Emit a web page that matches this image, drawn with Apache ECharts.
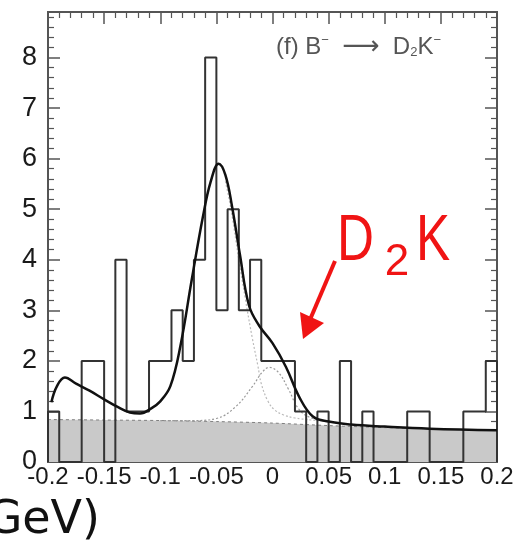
<!DOCTYPE html>
<html>
<head>
<meta charset="utf-8">
<script src="https://cdn.jsdelivr.net/npm/echarts@6/dist/echarts.min.js"></script>
<style>html,body{margin:0;padding:0;background:#fff}#c{width:529px;height:548px}</style>
</head>
<body>
<div id="c"></div>
<script>
// ---- data ----
const binStart = -0.2;
const binWidth = 0.01;
const counts = [1,0,0,2,2,0,4,1,1,2,2,3,2,4,8,3,5,3,4,2,2,2,1,0,1,0,2,0,1,0,0,0,1,1,0,0,0,1,1,2];

const totalX = [-0.197,-0.192,-0.185,-0.175,-0.163,-0.15,-0.138,-0.127,-0.118,-0.108,-0.1,-0.091,-0.082,-0.072,-0.062,-0.055,-0.048,-0.042,-0.036,-0.029,-0.021,-0.012,0,0.012,0.024,0.036,0.05,0.07,0.1,0.14,0.2];
const totalY = [1.18,1.5,1.67,1.55,1.41,1.24,1.09,0.98,0.96,1.06,1.2,1.5,2.3,3.6,4.85,5.55,5.9,5.68,5.05,4.1,3.1,2.7,2.35,1.88,1.28,0.9,0.8,0.74,0.7,0.66,0.63];

const sigX = [-0.042,-0.037,-0.03,-0.024,-0.018,-0.013,-0.01,-0.004,0.002,0.01,0.02,0.035,0.05];
const sigY = [5.55,5.0,4.0,3.2,2.45,1.9,1.55,1.2,1.03,0.93,0.87,0.83,0.8];

const d2kX = [-0.1,-0.07,-0.05,-0.033,-0.018,-0.009,-0.003,0.005,0.014,0.024,0.036,0.05,0.06];
const d2kY = [0.82,0.82,0.86,1.09,1.49,1.78,1.87,1.78,1.45,1.03,0.86,0.8,0.77];

const bkgX = [-0.2,-0.15,-0.1,-0.05,0,0.05,0.1,0.15,0.2];
const bkgY = [0.84,0.83,0.82,0.8,0.77,0.72,0.68,0.65,0.62];

const xTickLabels = ['-0.2','-0.15','-0.1','-0.05','0','0.05','0.1','0.15','0.2'];
const yTickLabels = ['0','1','2','3','4','5','6','7','8'];

// ---- build ----
const zip = (a, b) => a.map((v, i) => [v, b[i]]);
const histData = [[binStart, 0]];
counts.forEach((c, i) => histData.push([+(binStart + i * binWidth).toFixed(4), c]));
histData.push([+(binStart + counts.length * binWidth).toFixed(4), 0]);

const xMin = -0.2, xMax = 0.2, xStep = 0.05;
const axCol = '#555';
const xAxisBase = {
  type: 'value', min: xMin, max: xMax, interval: xStep,
  axisLine: {show: false, onZero: false},
  axisTick: {show: true, inside: true, length: 12, lineStyle: {color: axCol, width: 1.5}},
  minorTick: {show: true, splitNumber: 5, length: 6, lineStyle: {color: axCol, width: 1.2}},
  splitLine: {show: false}, minorSplitLine: {show: false}
};
const yAxisBase = {
  type: 'value', min: 0, max: 8.9, interval: 1,
  axisLine: {show: false, onZero: false},
  axisTick: {show: true, inside: true, length: 12, lineStyle: {color: axCol, width: 1.5}},
  minorTick: {show: true, splitNumber: 5, length: 6, lineStyle: {color: axCol, width: 1.2}},
  splitLine: {show: false}, minorSplitLine: {show: false}
};

const chart = echarts.init(document.getElementById('c'), null, {renderer: 'canvas'});
chart.setOption({
  animation: false,
  backgroundColor: '#fff',
  grid: {left: 48, right: 32, top: 12, bottom: 86, show: true, borderColor: '#555', borderWidth: 2, backgroundColor: 'transparent'},
  xAxis: [
    Object.assign({}, xAxisBase, {
      position: 'bottom',
      axisLabel: {show: true, fontSize: 24, color: '#1a1a1a', margin: 3, fontFamily: 'Liberation Sans',
        showMinLabel: true, showMaxLabel: true, hideOverlap: false,
        formatter: v => { const i = Math.round((v - xMin) / xStep); return xTickLabels[i] !== undefined ? xTickLabels[i] : ''; }}
    }),
    Object.assign({}, xAxisBase, {position: 'top', axisLabel: {show: false}})
  ],
  yAxis: [
    Object.assign({}, yAxisBase, {
      position: 'left',
      axisLabel: {show: true, fontSize: 27, color: '#1a1a1a', margin: 11, fontFamily: 'Liberation Sans', showMaxLabel: false,
        formatter: v => { const i = Math.round(v); return Math.abs(v - i) < 1e-6 && yTickLabels[i] !== undefined ? yTickLabels[i] : ''; }}
    }),
    Object.assign({}, yAxisBase, {position: 'right', axisLabel: {show: false}})
  ],
  series: [
    {type: 'line', name: 'bkg', data: zip(bkgX, bkgY), smooth: 0.3, symbol: 'none', z: 1,
      lineStyle: {color: '#808080', width: 1, type: [3, 3]},
      areaStyle: {color: '#c9c9c9', opacity: 1}},
    {type: 'line', name: 'data', data: histData, step: 'end', symbol: 'none', z: 3,
      lineStyle: {color: '#333', width: 2}},
    {type: 'line', name: 'D2K', data: zip(d2kX, d2kY), smooth: 0.4, symbol: 'none', z: 2,
      lineStyle: {color: '#999', width: 1.2, type: [2, 2]}},
    {type: 'line', name: 'signal', data: zip(sigX, sigY), smooth: 0.4, symbol: 'none', z: 2,
      lineStyle: {color: '#bbb', width: 1.2, type: [2, 2]}},
    {type: 'line', name: 'fit', data: zip(totalX, totalY), smooth: 0.4, symbol: 'none', z: 4,
      lineStyle: {color: '#111', width: 2.5}}
  ],
  graphic: [
    {type: 'text', left: 276, top: 34, z: 10,
      style: {text: '(f) B{sup|−}  {arr|⟶}  D{sub|2}K{sup|−}', fill: '#555', fontSize: 24, fontFamily: 'Liberation Sans',
        rich: {
          sup: {fontSize: 13, fill: '#555', verticalAlign: 'top', padding: [0, 0, 9, 0]},
          sub: {fontSize: 13, fill: '#555', padding: [11, 0, 0, 0]},
          arr: {fontSize: 26, fill: '#555', fontFamily: 'DejaVu Sans'}
        }}},
    {type: 'text', x: 337, y: 242, scaleX: 0.8, z: 10,
      style: {text: 'D', fill: '#f01414', fontSize: 64, fontFamily: 'Liberation Sans', align: 'left', verticalAlign: 'middle'}},
    {type: 'text', x: 397, y: 263, z: 10,
      style: {text: '2', fill: '#f01414', fontSize: 44, fontFamily: 'Liberation Sans', align: 'center', verticalAlign: 'middle'}},
    {type: 'text', x: 416, y: 242, scaleX: 0.8, z: 10,
      style: {text: 'K', fill: '#f01414', fontSize: 64, fontFamily: 'Liberation Sans', align: 'left', verticalAlign: 'middle'}},
    {type: 'line', z: 10, shape: {x1: 335, y1: 261, x2: 309, y2: 322}, style: {stroke: '#f01414', lineWidth: 4}},
    {type: 'polygon', z: 10, shape: {points: [[303, 339], [300, 312], [324, 323]]}, style: {fill: '#f01414'}},
    {type: 'text', x: 100, y: 521, z: 10,
      style: {text: 'ΔE (GeV)', fill: '#111', fontSize: 46, fontFamily: 'DejaVu Sans', align: 'right', verticalAlign: 'middle'}}
  ]
});
</script>
</body>
</html>
